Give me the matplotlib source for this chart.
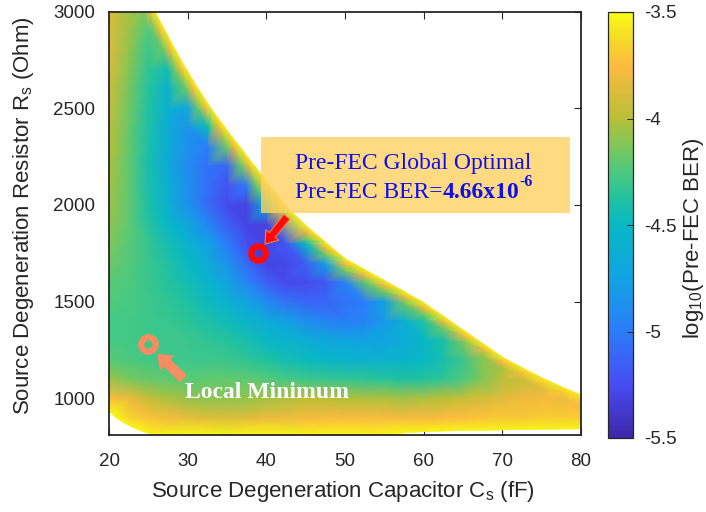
import numpy as np
import matplotlib
matplotlib.use("Agg")
import matplotlib.pyplot as plt
import matplotlib.tri as mtri
from matplotlib.colors import LinearSegmentedColormap, Normalize
from matplotlib.patches import Polygon, Rectangle
from matplotlib.cm import ScalarMappable

plt.rcParams["font.family"] = ["Liberation Sans", "DejaVu Sans"]
plt.rcParams["axes.unicode_minus"] = False
plt.rcParams["mathtext.fontset"] = "custom"
plt.rcParams["mathtext.rm"] = "Liberation Sans"

NA = np.nan

# ---- sweep data: log10(pre-FEC BER) over source degeneration Cs (fF) x Rs (Ohm)
cs_grid = [20, 22.5, 25, 27.5, 30, 32.5, 35, 37.5, 40, 42.5, 45, 47.5, 50,
           52.5, 55, 57.5, 60, 62.5, 65, 67.5, 70, 72.5, 75, 77.5, 80]
rs_grid = [3000, 2900, 2800, 2700, 2600, 2500, 2400, 2300, 2200, 2100, 2000,
           1900, 1800, 1700, 1600, 1500, 1400, 1300, 1200, 1100, 1000, 900]
log_ber = [
    [-3.88, -4.05] + [NA] * 23,
    [-3.87, -4.06, -4.25] + [NA] * 22,
    [-3.86, -4.08, -4.30] + [NA] * 22,
    [-3.89, -4.11, -4.33, -4.45] + [NA] * 21,
    [-3.92, -4.15, -4.36, -4.58] + [NA] * 21,
    [-3.95, -4.16, -4.38, -4.60, -4.72] + [NA] * 20,
    [-3.98, -4.18, -4.40, -4.65, -4.85, -4.50] + [NA] * 19,
    [-4.00, -4.19, -4.41, -4.64, -4.86, -5.00] + [NA] * 19,
    [-4.03, -4.20, -4.42, -4.66, -4.90, -5.06, -5.12] + [NA] * 18,
    [-4.05, -4.20, -4.41, -4.62, -4.87, -5.07, -5.22, -5.00] + [NA] * 17,
    [-4.06, -4.20, -4.40, -4.60, -4.86, -5.08, -5.26, -5.30, -4.55] + [NA] * 16,
    [-4.09, -4.21, -4.36, -4.51, -4.70, -4.92, -5.15, -5.30, -5.30]
    + [NA] * 16,
    [-4.12, -4.22, -4.32, -4.43, -4.57, -4.75, -5.00, -5.25, -5.31, -5.18,
     -4.50] + [NA] * 14,
    [-4.17, -4.23, -4.31, -4.39, -4.49, -4.63, -4.85, -5.10, -5.30, -5.28,
     -5.15, -4.75] + [NA] * 13,
    [-4.22, -4.25, -4.30, -4.36, -4.44, -4.56, -4.72, -4.94, -5.15, -5.26,
     -5.27, -5.20, -4.95] + [NA] * 12,
    [-4.25, -4.26, -4.29, -4.33, -4.39, -4.47, -4.58, -4.72, -4.90, -5.05,
     -5.12, -5.12, -5.05, -5.00, -4.75] + [NA] * 10,
    [-4.27, -4.28, -4.29, -4.31, -4.35, -4.40, -4.46, -4.55, -4.65, -4.76,
     -4.87, -4.95, -4.99, -4.95, -4.82, -4.62, -4.38] + [NA] * 8,
    [-4.27, -4.28, -4.29, -4.29, -4.30, -4.33, -4.36, -4.42, -4.50, -4.57,
     -4.63, -4.69, -4.73, -4.75, -4.73, -4.64, -4.52, -4.40] + [NA] * 7,
    [-4.22, -4.26, -4.28, -4.29, -4.29, -4.29, -4.30, -4.33, -4.38, -4.43,
     -4.48, -4.52, -4.55, -4.58, -4.58, -4.56, -4.50, -4.42, -4.30]
    + [NA] * 6,
    [-4.06, -4.14, -4.18, -4.20, -4.22, -4.21, -4.20, -4.21, -4.24, -4.27,
     -4.30, -4.32, -4.33, -4.34, -4.36, -4.39, -4.37, -4.33, -4.25, -4.12,
     -3.98, NA, NA, NA, NA],
    [-3.75, -3.82, -3.95, -4.03, -4.08, -4.10, -4.10, -4.08, -4.05, -4.03,
     -4.00, -4.00, -4.02, -4.02, -4.03, -4.05, -4.03, -4.00, -3.95, -3.90,
     -3.85, -3.80, -3.77, NA, NA],
    [NA, -3.65, -3.72, -3.78, -3.83, -3.86, -3.88, -3.86, -3.82, -3.80,
     -3.78, -3.77, -3.76, -3.76, -3.76, -3.78, -3.77, -3.75, -3.74, -3.72,
     -3.70, -3.70, -3.68, -3.68, -3.68],
]

# upper limit of the valid design space (beyond it the link fails):
# steep part sampled every 100 Ohm, flat part every 2.5 fF
edge_cs = [25.9, 27.2, 28.5, 29.9, 31.4, 33.0, 34.8, 36.7, 38.6, 40.5, 42.4,
           45.0, 47.5, 50.0, 52.5, 55.0, 57.5, 60.0, 62.5, 65.0, 67.5, 70.0,
           72.5, 75.0, 77.5, 80.0]
edge_rs = [3000, 2900, 2800, 2700, 2600, 2500, 2400, 2300, 2200, 2100, 2000,
           1897, 1810, 1725, 1668, 1612, 1555, 1497, 1427, 1356, 1285, 1215,
           1160, 1108, 1062, 1018]
edge_ber = [-3.55] * 26

# orange rim just inside the upper limit
rim_cs = [25.2, 26.5, 27.8, 29.18, 30.67, 32.25, 34.03, 35.92, 37.8, 39.68,
          41.6, 45.0, 47.5, 50.0, 52.5, 55.0, 57.5, 60.0, 62.5, 65.0, 67.5,
          70.0, 72.5, 75.0, 77.5, 80.0]
rim_rs = [3000, 2900, 2800, 2700, 2600, 2500, 2400, 2300, 2200, 2100, 2000,
          1864, 1778, 1695, 1639, 1584, 1526, 1468, 1397, 1326, 1256, 1187,
          1133, 1082, 1037, 994]
rim_ber = [-3.80] * 21 + [-3.76, -3.73, -3.70, -3.68, -3.65]

# green shoulder inside the rim
shoulder_cs = [24.35, 25.64, 26.92, 28.3, 29.78, 31.33, 33.09, 34.95, 36.83,
               38.7, 40.62, 45.0, 47.5, 50.0, 52.5, 55.0, 57.5, 60.0, 62.5,
               65.0, 67.5, 70.0, 72.5, 75.0, 77.5, 80.0]
shoulder_rs = [3000, 2900, 2800, 2700, 2600, 2500, 2400, 2300, 2200, 2100,
               2000, 1822, 1740, 1659, 1603, 1548, 1490, 1432, 1360, 1288,
               1218, 1150, 1097, 1046, 1002, 960]
shoulder_ber = ([-4.12] + [-4.18] * 18
                + [-4.15, -4.10, -4.03, -3.95, -3.85, -3.80, -3.75])

# lower limit of the valid design space
floor_cs = [20.0, 21.0, 22.0, 23.0, 24.0, 25.5, 35.0, 45.0, 55.0, 57.5, 60.0,
            65.0, 70.0, 75.0, 80.0]
floor_rs = [930, 893, 868, 848, 830, 810, 810, 810, 810, 820, 826, 832, 835,
            838, 840]
floor_ber = [-3.53] * 15

# optimum points
opt_cs, opt_rs, opt_ber = 39.0, 1750, 4.66e-6
local_cs, local_rs = 24.9, 1280

# ---- parula-like colormap
parula_colors = [
    (0.000, (0.242, 0.150, 0.660)),
    (0.125, (0.280, 0.300, 0.950)),
    (0.250, (0.170, 0.490, 0.980)),
    (0.375, (0.070, 0.640, 0.890)),
    (0.500, (0.030, 0.720, 0.770)),
    (0.5625, (0.130, 0.760, 0.630)),
    (0.625, (0.300, 0.790, 0.500)),
    (0.6875, (0.500, 0.780, 0.350)),
    (0.750, (0.720, 0.750, 0.220)),
    (0.875, (0.990, 0.730, 0.250)),
    (0.940, (0.960, 0.860, 0.150)),
    (1.000, (0.977, 0.984, 0.080)),
]
parula = LinearSegmentedColormap.from_list("parula", parula_colors, N=256)
norm = Normalize(vmin=-5.5, vmax=-3.5)

# ---- collect scattered samples
pts_c, pts_r, pts_v = [], [], []
for i, r in enumerate(rs_grid):
    for j, c in enumerate(cs_grid):
        v = log_ber[i][j]
        if not np.isnan(v):
            pts_c.append(c); pts_r.append(r); pts_v.append(v)
pts_c += edge_cs + rim_cs + shoulder_cs + floor_cs + [opt_cs]
pts_r += edge_rs + rim_rs + shoulder_rs + floor_rs + [opt_rs]
pts_v += edge_ber + rim_ber + shoulder_ber + floor_ber + [np.log10(opt_ber)]
pts_c = np.array(pts_c, float)
pts_r = np.array(pts_r, float)
pts_v = np.array(pts_v, float)

# triangulate in screen-like proportions, then draw in data units
tri_n = mtri.Triangulation(pts_c * 7.867, pts_r * 0.1934)
tri = mtri.Triangulation(pts_c, pts_r, tri_n.triangles)

fig = plt.figure(figsize=(7.06, 5.12), dpi=100)
ax = fig.add_axes([109 / 706, 77 / 512, 472 / 706, 423.3 / 512])
dark = (0.15, 0.15, 0.15)

ax.set_axisbelow(True)
ax.grid(True, color=(0.86, 0.86, 0.86), lw=0.9)

tpc = ax.tripcolor(tri, pts_v, shading="gouraud", cmap=parula, norm=norm,
                   zorder=1)
clip_verts = ([(20, 3000)] + list(zip(edge_cs, edge_rs))
              + list(zip(floor_cs, floor_rs))[::-1])
clip = Polygon(clip_verts, closed=True, transform=ax.transData)
tpc.set_clip_path(clip)

ax.set_xlim(20, 80)
ax.set_ylim(810, 3000)
ax.set_xticks(np.arange(20, 81, 10))
ax.set_yticks(np.arange(1000, 3001, 500))
ax.tick_params(direction="in", top=True, right=True, length=5, width=0.8,
               color=dark, labelcolor=dark, labelsize=13.5)
ax.tick_params(axis="x", pad=13)
ax.tick_params(axis="y", pad=10)
for s in ax.spines.values():
    s.set_color(dark)
    s.set_linewidth(1.3)
    s.set_zorder(5)

fig.text(343 / 706, 1 - 491 / 512,
         r"Source Degeneration Capacitor C$_\mathregular{s}$ (fF)",
         ha="center", va="center", fontsize=16, color=dark)
fig.text(24 / 706, 1 - 216 / 512,
         r"Source Degeneration Resistor R$_\mathregular{s}$ (Ohm)",
         ha="center", va="center", rotation=90, fontsize=16, color=dark)

# ---- colorbar
cax = fig.add_axes([608 / 706, 74 / 512, 25 / 706, 426 / 512])
cb = fig.colorbar(ScalarMappable(norm=norm, cmap=parula), cax=cax)
cb_ticks = [-5.5, -5, -4.5, -4, -3.5]
cb.set_ticks(cb_ticks)
cb.set_ticklabels([f"{t:g}" for t in cb_ticks])
cax.tick_params(direction="in", length=4, width=0.7, color=dark,
                labelcolor=dark, labelsize=13.5, pad=8)
cb.outline.set_edgecolor(dark)
cb.outline.set_linewidth(0.9)
fig.text(694 / 706, 1 - 238 / 512, r"log$_\mathregular{10}$(Pre-FEC BER)",
         ha="center", va="center", rotation=90, fontsize=16, color=dark)

# ---- annotations
serif = ["Liberation Serif", "DejaVu Serif"]
blue = (0.05, 0.05, 0.95)
ax.add_patch(Rectangle((39.3, 1958), 39.3, 393, facecolor=(1.0, 0.82, 0.38),
                       alpha=0.8, edgecolor="none", zorder=6))
ax.text(43.6, 2184, "Pre-FEC Global Optimal", family=serif, fontsize=17,
        color=blue, va="baseline", ha="left", zorder=7)
t1 = ax.text(43.6, 2037, "Pre-FEC BER=", family=serif, fontsize=17,
             color=blue, va="baseline", ha="left", zorder=7)
mant, expo = f"{opt_ber:.2e}".split("e")
t2 = ax.annotate(f"{mant}x10", xy=(1, 0), xycoords=t1, family=serif,
                 fontsize=17, fontweight="bold", color=blue, va="bottom",
                 ha="left", zorder=7)
ax.annotate(f"-{int(expo[1:])}", xy=(1, 0.62), xycoords=t2, family=serif,
            fontsize=11.5, fontweight="bold", color=blue, va="bottom",
            ha="left", zorder=7)

ax.plot([opt_cs], [opt_rs], marker="o", ms=10.4, mfc="none", mec="#FF0A0A",
        mew=4.5, zorder=8)
ax.annotate("", xy=(39.83, 1798), xytext=(42.6, 1939),
            arrowprops=dict(arrowstyle="simple,head_length=0.7,head_width=1.0,"
                            "tail_width=0.45", mutation_scale=12,
                            fc="#FF0A0A", ec="#FF7A3A", lw=0.8,
                            shrinkA=0, shrinkB=0), zorder=8)

salmon = "#F98C60"
ax.plot([local_cs], [local_rs], marker="o", ms=10.4, mfc="none", mec=salmon,
        mew=4.5, zorder=8)
ax.annotate("", xy=(26.19, 1228), xytext=(29.44, 1103),
            arrowprops=dict(arrowstyle="simple,head_length=0.7,head_width=1.1,"
                            "tail_width=0.5", mutation_scale=13,
                            fc=salmon, ec=salmon, lw=0.5,
                            shrinkA=0, shrinkB=0), zorder=8)
ax.text(29.66, 1000, "Local Minimum", family=serif, fontsize=17,
        fontweight="bold", color="white", va="baseline", ha="left", zorder=8)

fig.savefig("out.png", dpi=100)
